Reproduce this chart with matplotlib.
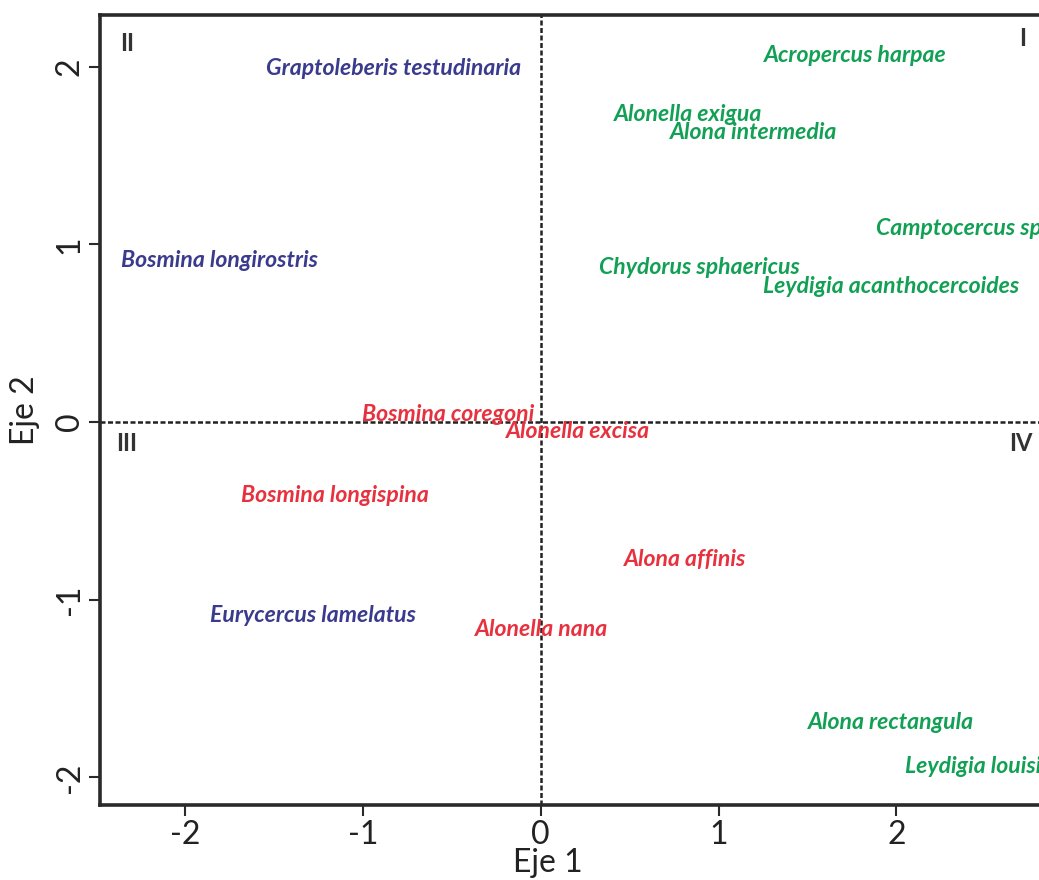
import matplotlib
matplotlib.use("Agg")
import matplotlib.pyplot as plt

# Species labels and their ordination scores (Eje 1, Eje 2)
species = ["Graptoleberis testudinaria", "Bosmina longirostris", "Eurycercus lamelatus",
           "Acropercus harpae", "Alonella exigua", "Alona intermedia", "Camptocercus sp.",
           "Chydorus sphaericus", "Leydigia acanthocercoides", "Alona rectangula",
           "Leydigia louisi",
           "Bosmina coregoni", "Alonella excisa", "Bosmina longispina", "Alona affinis",
           "Alonella nana"]
eje1 = [-0.83, -1.81, -1.28,
        1.77, 0.83, 1.20, 2.37,
        0.89, 1.97, 1.97,
        2.43,
        -0.52, 0.21, -1.16, 0.81,
        0.006]
eje2 = [1.99, 0.906, -1.09,
        2.06, 1.73, 1.63, 1.086,
        0.87, 0.76, -1.69,
        -1.94,
        0.04, -0.056, -0.416, -0.776,
        -1.17]
group = ["blue", "blue", "blue",
         "green", "green", "green", "green",
         "green", "green", "green",
         "green",
         "red", "red", "red", "red",
         "red"]
group_colors = {"blue": "#3B3B8E", "green": "#12A055", "red": "#E8313E"}

quadrants = ["II", "I", "III", "IV"]
quad_x = [-2.33, 2.71, -2.33, 2.70]
quad_y = [2.13, 2.16, -0.12, -0.12]

xticks = [-2, -1, 0, 1, 2]
yticks = [-2, -1, 0, 1, 2]

fig = plt.figure(figsize=(10.39, 8.8), dpi=100)
ax = fig.add_axes([100/1039, 1 - 805/880, 1.02 - 100/1039, (805 - 15)/880])
ax.set_xlim(-2.48, 2.92)
ax.set_ylim(-2.155, 2.29)

ax.axhline(0, color="#222222", lw=1.8, ls=(0, (2.0, 1.0)), zorder=1)
ax.axvline(0, color="#222222", lw=1.8, ls=(0, (2.0, 1.0)), zorder=1)

for name, x, y, g in zip(species, eje1, eje2, group):
    ax.text(x, y, name, color=group_colors[g], fontsize=16.6, fontweight="bold",
            fontstyle="italic", family="Lato", ha="center", va="center", zorder=3)

for q, x, y in zip(quadrants, quad_x, quad_y):
    ax.text(x, y, q, color="#333333", fontsize=17, fontweight="bold", family="Lato",
            ha="center", va="center")

for s in ["left", "bottom", "top"]:
    ax.spines[s].set_linewidth(2.6)
    ax.spines[s].set_color("#2a2a2a")
ax.spines["right"].set_visible(False)

ax.set_xticks(xticks)
ax.set_yticks(yticks)
ax.set_xticklabels([str(t) for t in xticks], family="Lato", fontsize=23, color="#222222")
ax.set_yticklabels([str(t) for t in yticks], family="Lato", fontsize=23, color="#222222",
                   rotation=90, va="center")
ax.tick_params(axis="both", length=8, width=1.5, color="#2a2a2a", pad=3)

ax.set_xlabel("Eje 1", family="Lato", fontsize=23, color="#222222")
ax.set_ylabel("Eje 2", family="Lato", fontsize=23, color="#222222")
ax_w_px = 1.02 * 1039 - 100
ax.xaxis.set_label_coords((548 - 100) / ax_w_px, -(862 - 805) / 790, transform=None) if False else None
ax.xaxis.set_label_coords((548 - 100) / ax_w_px, -(848 - 805) / 790)
ax.xaxis.label.set_va("top")
ax.yaxis.set_label_coords(-(100 - 25) / ax_w_px, (805 - 410) / 790)
ax.yaxis.label.set_va("center")

fig.savefig("out.png", dpi=100)
